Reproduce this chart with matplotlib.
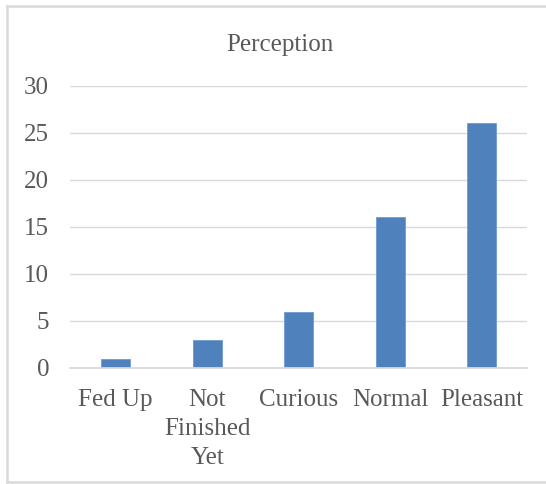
import numpy as np
import matplotlib.pyplot as plt

# Данные
categories = ["Fed Up", "Not\nFinished\nYet", "Curious", "Normal", "Pleasant"]
values = [1, 3, 6, 16, 26]
y_ticks = [0, 5, 10, 15, 20, 25, 30]

text_color = "#595959"
grid_color = "#D9D9D9"
bar_color = "#4F81BD"

plt.rcParams['font.family'] = ['Liberation Serif', 'DejaVu Serif']

fig = plt.figure(figsize=(5.46, 4.84), dpi=100)
ax = fig.add_axes([0.1282, 0.2397, 0.8379, 0.5833])

x = np.arange(len(categories))
ax.bar(x, values, width=0.32, color=bar_color, edgecolor="#6F9AD0", linewidth=0.6, zorder=3)

ax.set_xlim(-0.5, len(categories) - 0.5)
ax.set_ylim(0, 30)
ax.set_yticks(y_ticks)
ax.set_xticks(x)
ax.set_xticklabels(categories, fontsize=18, color=text_color, linespacing=1.42)
ax.tick_params(axis='y', length=0, pad=15, labelsize=18, labelcolor=text_color)
ax.tick_params(axis='x', length=0, pad=15)

# Линии сетки
ax.yaxis.grid(True, color=grid_color, linewidth=1.0, zorder=0)
for s in ["top", "right", "left"]:
    ax.spines[s].set_visible(False)
ax.spines["bottom"].set_color(grid_color)
ax.spines["bottom"].set_linewidth(1.3)
ax.spines["bottom"].set_zorder(4)

fig.text(0.513, 0.908, "Perception", ha="center", va="center", fontsize=18, color=text_color)

# Рамка вокруг диаграммы (справа обрезана)
W, H = 546, 484
fig.add_artist(plt.Line2D([7 / W, 7 / W], [2 / H, (H - 6) / H], color=grid_color, linewidth=1.8))
fig.add_artist(plt.Line2D([7 / W, 1.0], [(H - 6) / H, (H - 6) / H], color=grid_color, linewidth=1.8))
fig.add_artist(plt.Line2D([7 / W, 1.0], [2 / H, 2 / H], color=grid_color, linewidth=1.8))

fig.savefig("out.png", dpi=100)
